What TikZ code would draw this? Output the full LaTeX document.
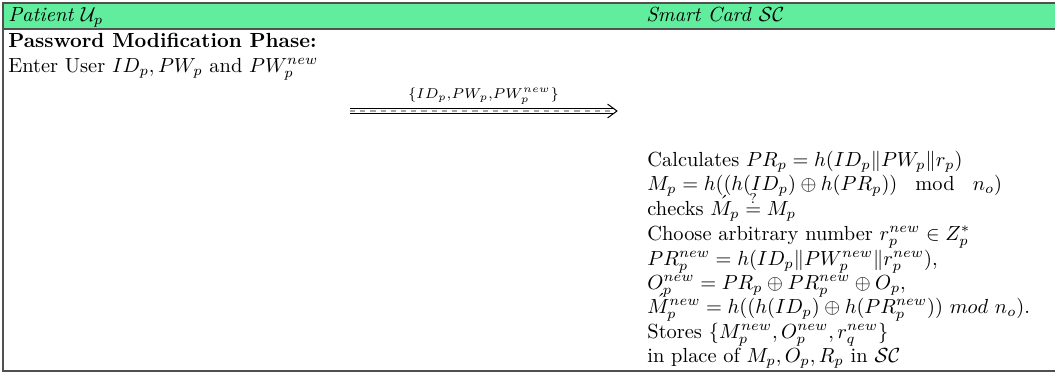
\documentclass[tikz,border=0pt]{standalone}
\usepackage{amsmath}
\usepackage{amssymb}
\usetikzlibrary{calc}
\definecolor{hdrgreen}{RGB}{96,237,158}
\definecolor{rulegray}{RGB}{80,80,80}

\begin{document}
\begin{tikzpicture}[x=0.49pt,y=0.49pt,yscale=-1,xscale=1,
  txt/.style={anchor=base west,inner sep=0pt},
  msgline/.style={line width=0.5pt,black},
  msgmid/.style={line width=0.5pt,gray!70,dash pattern=on 2.5pt off 2.5pt}]
\useasboundingbox (0,0) rectangle (1058,374);

% header band and frame
\fill[hdrgreen] (3,3) rectangle (1055,29);
\draw[rulegray,line width=0.8pt] (1055,3) -- (3,3) -- (3,371) -- (1055,371);
\draw[rulegray,line width=0.8pt] (3,29) -- (1055,29);

% header text
\node[txt] (patient) at (8,21) {\textit{Patient} $\mathcal{U}_p$};
\node[txt] (card) at (646,21) {\textit{Smart Card} $\mathcal{SC}$};

% patient side
\node[txt] (phase) at (8,47) {\textbf{Password Modification Phase:}};
\node[txt] (enter) at (8,72) {Enter User $ID_p, PW_p$ and $PW_p^{new}$};

% message to the card (double arrow)
\coordinate (msgs) at (350,111);
\coordinate (msge) at (617,111);
\draw[msgline] ([yshift=1.1pt]msgs) -- ([xshift=-1.5pt,yshift=1.1pt]msge);
\draw[msgline] ([yshift=-1.1pt]msgs) -- ([xshift=-1.5pt,yshift=-1.1pt]msge);
\draw[msgmid] (msgs) -- ([xshift=-2pt]msge);
\draw[msgline,line cap=round,line join=round] ([xshift=-4.5pt,yshift=3.3pt]msge) -- (msge) -- ([xshift=-4.5pt,yshift=-3.3pt]msge);
\node[above=3pt,inner sep=0pt] (msglbl) at ($(msgs)!0.5!(msge)$) {$\scriptstyle \{ID_p,PW_p,PW_p^{new}\}$};

% smart card side
\node[txt] (calc) at (647,166) {Calculates $PR_p = h(ID_p \| PW_p \| r_p)$};
\node[txt] (mp) at (647,190) {$M_p = h((h(ID_p) \oplus h(PR_p))\mkern16mu\mathrm{mod}\mkern16mu n_o)$};
\node[txt] (chk) at (647,215) {checks $\acute{M}_p \stackrel{?}{=} M_p$};
\node[txt] (rnd) at (647,240) {Choose arbitrary number $r_p^{new} \in Z_p^*$};
\node[txt] (prnew) at (647,265) {$PR_p^{new} = h(ID_p \| PW_p^{new} \| r_p^{new}),$};
\node[txt] (onew) at (647,289) {$O_p^{new} = PR_p \oplus PR_p^{new} \oplus O_p,$};
\node[txt] (mnew) at (647,313) {$\acute{M}_p^{new} = h((h(ID_p) \oplus h(PR_p^{new}))\ mod\ n_o).$};
\node[txt] (store) at (647,338) {Stores $\{M_p^{new}, O_p^{new}, r_q^{new}\}$};
\node[txt] (place) at (647,362) {in place of $M_p, O_p, R_p$ in $\mathcal{SC}$};

\end{tikzpicture}
\end{document}
